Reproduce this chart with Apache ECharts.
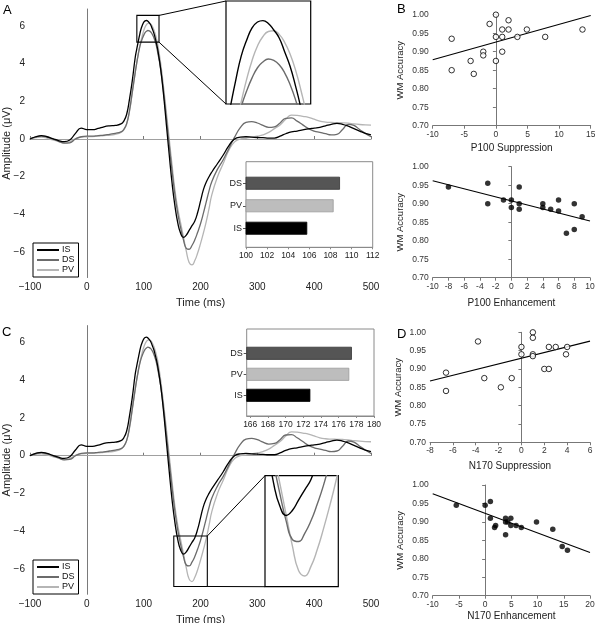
<!DOCTYPE html>
<html><head><meta charset="utf-8">
<script src="https://cdn.jsdelivr.net/npm/echarts@6/dist/echarts.min.js"></script>
<style>html,body{margin:0;padding:0;background:#fff}#c{width:595px;height:623px}</style>
</head><body><div id="c"></div>
<script>
// ---------- DATA ----------
const times = [-100,-90,-80,-70,-60,-50,-40,-30,-20,-10,0,10,20,30,40,50,60,
  65,70,75,80,85,
  87.5,90,92.5,95,97.5,100,102.5,105,107.5,110,112.5,115,117.5,120,122.5,125,
  130,135,140,145,150,155,160,165,170,175,180,185,190,195,200,205,210,215,220,
  230,240,250,260,270,280,290,300,310,320,330,340,350,360,370,380,390,400,410,420,430,440,450,460,470,480,490,500];
const IS = [0.0,0.12,0.18,0.12,0.02,-0.08,-0.14,-0.05,0.3,0.58,0.5,0.5,0.56,0.65,0.7,0.72,0.8,
  0.95,1.3,2.1,3.1,4.3,
  4.72,5.1,5.47,5.8,6.02,6.19,6.27,6.29,6.25,6.16,6.05,5.86,5.66,5.39,5.08,4.7,
  3.7,2.35,0.75,-0.85,-2.35,-3.55,-4.45,-5.0,-5.22,-5.1,-4.85,-4.6,-4.35,-3.9,-3.3,-2.7,-2.3,-2.0,-1.75,
  -1.3,-0.85,-0.35,0.0,0.1,0.12,0.1,0.08,0.07,0.05,0.05,0.15,0.28,0.38,0.42,0.48,0.54,0.58,0.62,0.7,0.78,0.83,0.78,0.68,0.55,0.42,0.3,0.22];
const DS = [0.0,0.1,0.15,0.1,0.0,-0.12,-0.22,-0.2,0.0,0.12,0.15,0.15,0.18,0.2,0.25,0.3,0.38,
  0.5,0.8,1.5,2.5,3.5,
  3.98,4.4,4.8,5.1,5.32,5.5,5.64,5.72,5.76,5.74,5.68,5.57,5.41,5.2,4.93,4.55,
  3.7,2.5,1.1,-0.3,-1.7,-2.95,-3.95,-4.7,-5.35,-5.8,-5.85,-5.65,-5.35,-4.95,-4.5,-3.95,-3.35,-2.75,-2.25,
  -1.6,-1.1,-0.5,0.1,0.6,0.88,0.92,0.85,0.72,0.62,0.65,0.85,1.1,1.12,0.95,0.75,0.55,0.42,0.35,0.28,0.22,0.25,0.5,0.78,0.72,0.5,0.3,0.12];
const PV = [0.02,0.08,0.1,0.05,-0.05,-0.12,-0.2,-0.15,0.02,0.1,0.12,0.13,0.15,0.18,0.2,0.25,0.35,
  0.5,0.8,1.45,2.45,3.5,
  4.0,4.45,4.85,5.17,5.48,5.74,5.94,6.07,6.14,6.15,6.1,5.99,5.83,5.61,5.33,4.99,
  4.0,2.75,1.4,0.0,-1.4,-2.7,-3.7,-4.45,-5.2,-5.95,-6.55,-6.68,-6.45,-6.05,-5.55,-5.0,-4.4,-3.7,-2.95,
  -2.0,-1.3,-0.6,-0.15,0.0,0.04,0.1,0.15,0.22,0.35,0.55,0.75,1.05,1.27,1.25,1.2,1.15,1.05,0.95,0.9,0.88,0.87,0.86,0.84,0.8,0.77,0.75,0.74];
const ampTicks = [-6,-4,-2,0,2,4,6];
const zoomA = {t:[88,127], v:[5.14,6.56]};
const zoomC = {t:[153,212], v:[-6.94,-4.26]};

const barCats = ['IS','PV','DS'];
const p100Latency = [105.8,108.3,108.9];
const n170Latency = [172.8,177.2,177.5];
const p100Ticks = [100,102,104,106,108,110,112];
const n170Ticks = [166,168,170,172,174,176,178,180];

const p100SupX = [-7,-7,-4,-3.5,-2,-2,-1,0,0,0,1,1,1,2,2,3.4,4.9,7.8,13.7];
const p100SupY = [0.935,0.85,0.875,0.84,0.90,0.89,0.975,1.00,0.94,0.875,0.96,0.94,0.90,0.985,0.96,0.94,0.96,0.94,0.96];
const p100SupFit = [[-10,0.878],[15,0.998]];
const p100EnhX = [-8,-3,-3,-1,0,0,1,1,1,4,4,5,6,6,8,8,7,9];
const p100EnhY = [0.945,0.955,0.90,0.91,0.91,0.89,0.945,0.90,0.885,0.90,0.89,0.885,0.91,0.88,0.90,0.83,0.82,0.865];
const p100EnhFit = [[-10,0.962],[10,0.853]];
const n170SupX = [-6.6,-6.6,-3.8,-3.25,-1.8,-0.85,0,0,1,1,1,1,2,2.4,2.4,3,3.9,4];
const n170SupY = [0.89,0.84,0.975,0.875,0.85,0.875,0.96,0.94,1.00,0.985,0.94,0.935,0.90,0.90,0.96,0.96,0.94,0.96];
const n170SupFit = [[-8,0.867],[6,0.976]];
const n170EnhX = [-5.5,0,1,1,1.8,2,3.9,3.9,3.9,4.3,4.9,4.9,5.9,6.9,9.8,12.9,14.7,15.7];
const n170EnhY = [0.945,0.945,0.955,0.91,0.885,0.89,0.91,0.90,0.865,0.90,0.91,0.89,0.89,0.885,0.90,0.88,0.833,0.823];
const n170EnhFit = [[-10,0.976],[20,0.817]];

// ---------- BUILD ----------
const FONT = '"Liberation Sans", Arial, Helvetica, sans-serif';
const erpColors = {IS:'#000000', DS:'#6b6b6b', PV:'#b5b5b5'};
const barColors = {IS:['#000','#000'], PV:['#bdbdbd','#9a9a9a'], DS:['#555','#333']};
const minus = v => String(v).replace('-', '\u2212');
const grids = [], xAxes = [], yAxes = [], series = [];
function addGrid(g, x, y){
  g.containLabel = false; g.outerBoundsMode = 'none';
  x.nameMoveOverlap = false; y.nameMoveOverlap = false;
  grids.push(g); const i = grids.length - 1;
  x.gridIndex = i; y.gridIndex = i; xAxes.push(x); yAxes.push(y); return i;
}
const erpData = {IS, DS, PV};
function erpLines(g, width, withMark){
  ['PV','DS','IS'].forEach(n => {
    const s = {type:'line', name:n, xAxisIndex:g, yAxisIndex:g, symbol:'none', smooth:0.5, clip:true,
      data: times.map((t,i)=>[t, erpData[n][i]]),
      lineStyle:{color:erpColors[n], width:width}, itemStyle:{color:erpColors[n]}, z:3};
    if (withMark && n==='IS') s.markLine = {silent:true, symbol:'none', label:{show:false}, animation:false, z:1,
      data:[{xAxis:0, lineStyle:{color:'#7a7a7a', width:1, type:'solid'}},
            {yAxis:0, lineStyle:{color:'#a0a0a0', width:1, type:'solid'}}]};
    series.push(s);
  });
}
function erpPanel(o){
  const gMain = addGrid({left:30, top:o.top, width:341, height:268.5},
    {type:'value', min:-100, max:500, interval:100, splitLine:{show:false},
     axisLine:{lineStyle:{color:'#777', width:1}}, axisTick:{inside:true, length:3, lineStyle:{color:'#777'}},
     axisLabel:{fontSize:10, color:'#222', margin:5, formatter:minus, fontFamily:FONT},
     name:'Time (ms)', nameLocation:'middle', nameGap:20, nameTextStyle:{fontSize:11, color:'#222', fontFamily:FONT}},
    {type:'value', min:-7.35, max:6.9, splitLine:{show:false},
     axisLine:{show:true, lineStyle:{color:'#777', width:1}}, axisTick:{show:false},
     axisLabel:{customValues:ampTicks, fontSize:10, color:'#222', margin:5, formatter:minus, fontFamily:FONT},
     name:'Amplitude (\u03BCV)', nameLocation:'middle', nameGap:18, nameRotate:90,
     nameTextStyle:{fontSize:11, color:'#222', fontFamily:FONT}});
  erpLines(gMain, 1.3, true);
  const z = o.zoom;
  const gIn = addGrid({left:o.inset[0], top:o.inset[1], width:o.inset[2], height:o.inset[3], show:true, borderColor:'#000', borderWidth:1.2},
    {type:'value', min:z.t[0], max:z.t[1], show:false}, {type:'value', min:z.v[0], max:z.v[1], show:false});
  erpLines(gIn, 1.4, false);
  const f = o.barFrame;
  addGrid({left:f[0], top:f[1], width:f[2], height:f[3], show:true, borderColor:'#8a8a8a', borderWidth:1},
    {type:'value', min:o.barMin, max:o.barMax, splitLine:{show:false}, axisLine:{lineStyle:{color:'#8a8a8a'}},
     axisTick:{show:true, length:2, customValues:o.barTicks, lineStyle:{color:'#8a8a8a'}},
     axisLabel:{customValues:o.barTicks, fontSize:8.5, color:'#222', margin:4, fontFamily:FONT}},
    {type:'value', min:0, max:1, show:false});
  const gBar = addGrid({left:f[0], top:o.barInner[0], width:f[2], height:o.barInner[1]},
    {type:'value', min:o.barMin, max:o.barMax, show:false},
    {type:'category', data:barCats, axisLine:{show:false},
     axisTick:{show:true, alignWithLabel:true, length:3, lineStyle:{color:'#555'}},
     axisLabel:{fontSize:9, color:'#222', margin:4, fontFamily:FONT}});
  series.push({type:'bar', xAxisIndex:gBar, yAxisIndex:gBar, barWidth:13,
    data: o.barVals.map((v,i)=>({value:v, itemStyle:{color:barColors[barCats[i]][0], borderColor:barColors[barCats[i]][1], borderWidth:0.8}}))});
  return {gMain, gIn};
}
const A = erpPanel({top:9, zoom:zoomA, inset:[226,1,84.7,103], barFrame:[246,161.7,126.7,85.6], barInner:[172,67.5],
  barMin:100, barMax:112, barTicks:p100Ticks, barVals:p100Latency});
const C = erpPanel({top:325.7, zoom:zoomC, inset:[265,475.7,73.3,111], barFrame:[246.7,329,127.3,87], barInner:[342.8,63],
  barMin:165.6, barMax:180, barTicks:n170Ticks, barVals:n170Latency});

function scatterPanel(rect, xs, ys, filled, xr, fit, xName, nameGap){
  const g = addGrid({left:rect[0], top:rect[1], width:rect[2], height:rect[3]},
    {type:'value', min:xr[0], max:xr[1], interval:xr[2], splitLine:{show:false},
     axisLine:{lineStyle:{color:'#777'}}, axisTick:{length:3, lineStyle:{color:'#777'}},
     axisLabel:{fontSize:8.5, color:'#333', margin:4, fontFamily:FONT},
     name:xName, nameLocation:'middle', nameGap:nameGap, nameTextStyle:{fontSize:10, color:'#222', fontFamily:FONT}},
    {type:'value', min:0.7, max:1.0, interval:0.05, splitLine:{show:false},
     axisLine:{show:true, lineStyle:{color:'#777'}}, axisTick:{show:true, length:3, lineStyle:{color:'#777'}},
     axisLabel:{fontSize:8.5, color:'#333', margin:4, formatter:v=>v.toFixed(2), fontFamily:FONT},
     name:'WM Accuracy', nameLocation:'middle', nameGap:27, nameRotate:90,
     nameTextStyle:{fontSize:9.5, color:'#222', fontFamily:FONT}});
  series.push({type:'scatter', xAxisIndex:g, yAxisIndex:g, symbolSize:5.5, z:3,
    data: xs.map((x,i)=>[x, ys[i]]),
    itemStyle: filled ? {color:'#000'} : {color:'#fff', borderColor:'#000', borderWidth:1}});
  series.push({type:'line', xAxisIndex:g, yAxisIndex:g, symbol:'none', data:fit, z:2,
    lineStyle:{color:'#000', width:1.1}});
}
scatterPanel([432.7,14.7,158,111], p100SupX, p100SupY, false, [-10,15,5], p100SupFit, 'P100 Suppression', 18);
scatterPanel([432.7,166.7,157.3,111], p100EnhX, p100EnhY, true, [-10,10,2], p100EnhFit, 'P100 Enhancement', 21);
scatterPanel([430,332.3,160,110], n170SupX, n170SupY, false, [-8,6,2], n170SupFit, 'N170 Suppression', 19);
scatterPanel([432.7,485,157.3,110.7], n170EnhX, n170EnhY, true, [-10,20,5], n170EnhFit, 'N170 Enhancement', 16);

function legendAt(top){
  return {data:['IS','DS','PV'], orient:'vertical', left:33, top:top, icon:'rect', itemWidth:22, itemHeight:2, itemGap:0,
    padding:[2,4,2,4], borderColor:'#000', borderWidth:1, backgroundColor:'#fff', selectedMode:false,
    textStyle:{fontSize:9, color:'#111', fontFamily:FONT, padding:[0,0,0,-2], lineHeight:10}};
}
const letters = [['A',3,4],['B',397,3],['C',2,326],['D',397,328]].map(l=>({type:'text', left:l[1], top:l[2],
  style:{text:l[0], font:'13px ' + FONT, fill:'#000'}}));

const chart = echarts.init(document.getElementById('c'), null, {renderer:'canvas'});
chart.setOption({animation:false, backgroundColor:'#fff', textStyle:{fontFamily:FONT},
  grid:grids, xAxis:xAxes, yAxis:yAxes, series:series, legend:[legendAt(243), legendAt(560)], graphic:letters});

function zoomGraphics(P, z){
  const p = (g, pt) => chart.convertToPixel({gridIndex:g}, pt);
  const tl = p(P.gMain, [z.t[0], z.v[1]]), br = p(P.gMain, [z.t[1], z.v[0]]);
  const tr = p(P.gMain, [z.t[1], z.v[1]]);
  const itl = p(P.gIn, [z.t[0], z.v[1]]), ibl = p(P.gIn, [z.t[0], z.v[0]]);
  const st = {stroke:'#000', lineWidth:1, fill:null};
  return [
    {type:'rect', shape:{x:tl[0], y:tl[1], width:br[0]-tl[0], height:br[1]-tl[1]}, style:{stroke:'#000', lineWidth:1.1, fill:null}, z:10},
    {type:'line', shape:{x1:tr[0], y1:tr[1], x2:itl[0], y2:itl[1]}, style:st, z:10},
    {type:'line', shape:{x1:br[0], y1:br[1], x2:ibl[0], y2:ibl[1]}, style:st, z:10}
  ];
}
chart.setOption({graphic: letters.concat(zoomGraphics(A, zoomA), zoomGraphics(C, zoomC))});
</script></body></html>
